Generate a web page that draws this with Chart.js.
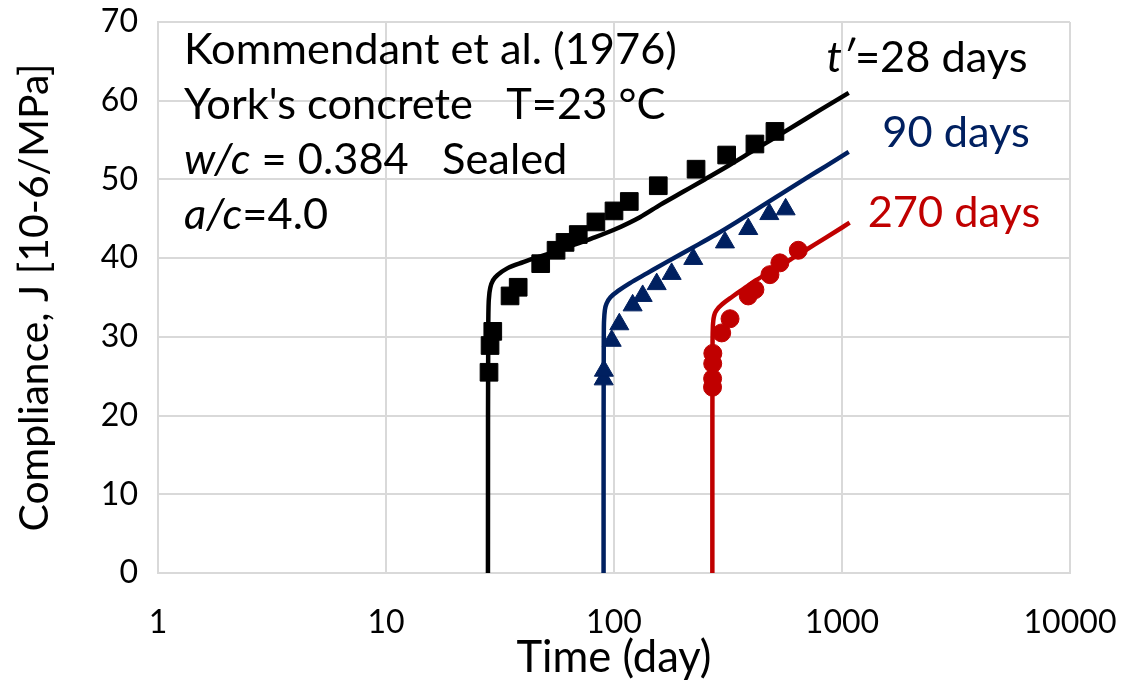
<!DOCTYPE html>
<html>
<head>
<meta charset="utf-8">
<script src="https://cdn.jsdelivr.net/npm/chart.js@4.4.1/dist/chart.umd.min.js"></script>
<style>
html,body{margin:0;padding:0;background:#ffffff;}
#wrap{width:1123px;height:684px;position:relative;}
</style>
</head>
<body>
<div id="wrap"><canvas id="c" width="1123" height="684"></canvas></div>
<script>
// ---------- data ----------
const xTickValues = [1, 10, 100, 1000, 10000];
const xTickLabels = ['1', '10', '100', '1000', '10000'];

// measured compliance (markers)
const t28Time  = [28.3, 28.6, 29.4, 35.0, 38.0, 47.7, 55.7, 61.0, 69.7, 83.3, 100, 116.7, 156.4, 229, 312, 415, 508];
const t28J     = [25.5, 28.9, 30.7, 35.2, 36.3, 39.3, 41.0, 42.0, 43.0, 44.6, 46.0, 47.2, 49.2, 51.3, 53.1, 54.5, 56.1];
const t90Time  = [90.1, 90.3, 97.7, 105.5, 120.7, 133.6, 153.9, 179, 222.7, 306.7, 388, 480, 566];
const t90J     = [24.6, 25.7, 29.5, 31.6, 34.0, 35.2, 36.7, 38.0, 39.9, 42.0, 43.7, 45.6, 46.2];
const t270Time = [270.5, 270.7, 271.0, 271.3, 296.7, 322.8, 388, 415, 483, 534, 643];
const t270J    = [23.6, 24.7, 26.6, 27.9, 30.5, 32.3, 35.2, 36.0, 37.9, 39.4, 41.0];

// model curves
const m28Time  = [28, 28.02, 28.1, 28.3, 28.7, 29.5, 31, 34, 40, 46, 55, 64, 80, 100, 130, 160, 200, 250, 320, 400, 500, 650, 800, 1070];
const m28J     = [0, 20, 32, 35, 36.3, 37.2, 37.9, 38.7, 39.5, 40.1, 40.8, 41.5, 42.5, 43.6, 45.2, 46.8, 48.4, 50.0, 51.8, 53.5, 55.2, 57.2, 58.8, 61.0];
const m90Time  = [90, 90.05, 90.2, 90.5, 91.2, 93, 97, 105, 117, 140, 170, 220, 280, 350, 450, 550, 700, 850, 1070];
const m90J     = [0, 20, 30, 32.2, 33.4, 34.3, 35.1, 35.9, 36.8, 38.1, 39.5, 41.3, 43.0, 44.7, 46.7, 48.3, 50.2, 51.7, 53.5];
const m270Time = [270, 270.1, 270.5, 271.2, 272.5, 275, 282, 300, 330, 370, 420, 500, 600, 700, 850, 1080];
const m270J    = [0, 20, 29, 31.0, 32.0, 32.7, 33.4, 34.2, 35.1, 36.1, 37.2, 38.5, 39.9, 41.1, 42.6, 44.5];

// ---------- style ----------
const FONT = 'Lato, "Open Sans", "DejaVu Sans", sans-serif';
const BLACK = '#000000', BLUE = '#002060', RED = '#C00000', GRID = '#d9d9d9';

function pts(xs, ys) { return xs.map((x, i) => ({x: x, y: ys[i]})); }

const mc = document.createElement('canvas').getContext('2d');
function fitSize(text, target, style) {
  mc.font = (style || '') + ' 100px ' + FONT;
  return 100 * target / mc.measureText(text).width;
}
const tickSize = fitSize('10000', 93);
const xTitleSize = fitSize('Time (day)', 195);
const yTitleSize = fitSize('Compliance, J [10-6/MPa]', 468);
const annoSize = fitSize('Kommendant et al. (1976)', 493);

const annoLeft = [
  [['Kommendant et al. (1976)', false]],
  [["York's concrete   T=23 °C", false]],
  [['w/c', true], [' = 0.384   Sealed', false]],
  [['a/c', true], ['=4.0', false]]
];
const annoLeftBase = [64, 119, 174, 229];
const annoRight = [
  {segs: [['t′', true], ['=28 days', false]], cx: 927, base: 72, color: BLACK},
  {segs: [['90 days', false]], cx: 956, base: 147, color: BLUE},
  {segs: [['270 days', false]], cx: 954, base: 227, color: RED}
];

function drawSegs(ctx, segs, x, y, align) {
  let total = 0;
  const widths = segs.map(s => {
    ctx.font = (s[1] ? 'italic ' : '') + annoSize.toFixed(2) + 'px ' + FONT;
    const w = ctx.measureText(s[0]).width; total += w; return w;
  });
  let cx = align === 'center' ? x - total / 2 : x;
  segs.forEach((s, i) => {
    ctx.font = (s[1] ? 'italic ' : '') + annoSize.toFixed(2) + 'px ' + FONT;
    ctx.fillText(s[0], cx, y);
    cx += widths[i];
  });
}

const annoPlugin = {
  id: 'anno',
  afterDraw(chart) {
    const ctx = chart.ctx;
    ctx.save();
    ctx.textBaseline = 'alphabetic';
    ctx.textAlign = 'left';
    ctx.fillStyle = BLACK;
    annoLeft.forEach((segs, i) => drawSegs(ctx, segs, 184, annoLeftBase[i], 'left'));
    annoRight.forEach(a => { ctx.fillStyle = a.color; drawSegs(ctx, a.segs, a.cx, a.base, 'center'); });
    ctx.restore();
  }
};

const lineDS = (xs, ys, color) => ({
  data: pts(xs, ys), showLine: true, borderColor: color, borderWidth: 4.5,
  pointRadius: 0, cubicInterpolationMode: 'monotone', fill: false, borderCapStyle: 'butt'
});
const markDS = (xs, ys, color, style, r) => ({
  data: pts(xs, ys), showLine: false, pointStyle: style, pointRadius: r,
  backgroundColor: color, borderColor: color, borderWidth: 1
});

new Chart(document.getElementById('c'), {
  type: 'scatter',
  data: {
    datasets: [
      markDS(t28Time, t28J, BLACK, 'rect', 12.5),
      markDS(t90Time, t90J, BLUE, 'triangle', 11),
      markDS(t270Time, t270J, RED, 'circle', 9),
      lineDS(m28Time, m28J, BLACK),
      lineDS(m90Time, m90J, BLUE),
      lineDS(m270Time, m270J, RED)
    ]
  },
  options: {
    responsive: false,
    animation: false,
    devicePixelRatio: 1,
    layout: {padding: {top: 22, right: 53, bottom: 0, left: 0}},
    plugins: {legend: {display: false}, tooltip: {enabled: false}},
    scales: {
      x: {
        type: 'logarithmic', min: 1, max: 10000,
        afterBuildTicks: s => { s.ticks = xTickValues.map(v => ({value: v})); },
        afterFit: s => { s.height = 111; s.paddingLeft = 0; s.paddingRight = 0; },
        grid: {color: GRID, lineWidth: 2, drawTicks: false},
        border: {color: GRID, width: 2},
        ticks: {color: BLACK, font: {family: FONT, size: tickSize}, padding: 30, maxRotation: 0, autoSkip: false,
                callback: (v, i) => xTickLabels[i]},
        title: {display: true, text: 'Time (day)', color: BLACK, font: {family: FONT, size: xTitleSize}, padding: {top: 0, bottom: 0}}
      },
      y: {
        min: 0, max: 70,
        afterFit: s => { s.width = 158; s.paddingTop = 0; s.paddingBottom = 0; },
        grid: {color: GRID, lineWidth: 2, drawTicks: false},
        border: {color: GRID, width: 2},
        ticks: {stepSize: 10, color: BLACK, font: {family: FONT, size: tickSize}, padding: 20},
        title: {display: true, text: 'Compliance, J [10-6/MPa]', color: BLACK, font: {family: FONT, size: yTitleSize}, padding: {top: 10, bottom: 0}}
      }
    }
  },
  plugins: [annoPlugin]
});
</script>
</body>
</html>
